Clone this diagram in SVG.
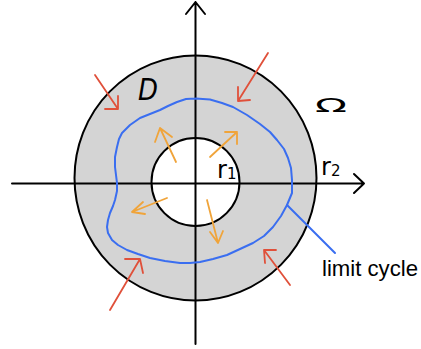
<svg xmlns="http://www.w3.org/2000/svg" width="421" height="349" viewBox="0 0 421 349">
<defs>
<style>
.ax{stroke:#000;stroke-width:2;fill:none;stroke-linecap:round;stroke-linejoin:round}
.red{stroke:#e0503a;stroke-width:1.8;fill:none;stroke-linecap:round;stroke-linejoin:round}
.org{stroke:#f0a43a;stroke-width:1.8;fill:none;stroke-linecap:round;stroke-linejoin:round}
.blue{stroke:#3a6ef0;stroke-width:2;fill:none;stroke-linecap:round;stroke-linejoin:round}
.hand{font-family:"DejaVu Sans","Liberation Sans",sans-serif;fill:#000}
.lbl{font-family:"Liberation Sans",Arial,sans-serif;fill:#000}
</style>
</defs>
<rect width="421" height="349" fill="#fff"/>
<g id="region-D">
<ellipse cx="195.5" cy="178" rx="121" ry="122.5" fill="#d4d4d4" stroke="#000" stroke-width="2"/>
<circle cx="195.5" cy="182" r="44" fill="#fff" stroke="#000" stroke-width="2"/>
</g>
<g id="axes">
<path class="ax" d="M12 183.5 H364 M354 174 L364 183.5 L354 193"/>
<path class="ax" d="M195.5 344 V2 M186 14 L195.5 2 L205 14"/>
</g>
<g id="limit-cycle">
<polyline class="blue" points="195.7,98.5 210,99.5 222,103 233,107 247,115 260,124 270,132 277,140 284,149 288,158 291,168 292,180 292,193 287,205 281,216 273,227 264,236 253,243 240,249 227,255 213,259 200,262 190,263 180,263 165,261 150,258 138,254 127,250 118,245 112,240 108,233 107,227 108,220 110,213 113,206 115,200 117,191 117,183 116,175 115,167 115,157 117,147 119,139 122,133 130,125 140,118 150,114 160,110 168,106 177,102 186,99 195.7,98.5"/>
</g>
<g id="connectors">
<path class="blue" d="M287 205 L335 253"/>
<path class="red" d="M95 75 L118 109 M118 96 L118 109 L105 109"/>
<path class="red" d="M268 53 L238 101 M238 87 L238 101 L250 100"/>
<path class="red" d="M110 310 L140 259 M125 259 L140 259 L143 273"/>
<path class="red" d="M290 285 L264 250 M276 250 L264 250 L265 263"/>
<path class="org" d="M176 162 L160 128 M155 142 L160 128 L172 137"/>
<path class="org" d="M210 157 L237 132 M225 132 L237 132 L237 144"/>
<path class="org" d="M167 198 L132 212 M143 202 L132 212 L145 214"/>
<path class="org" d="M207 200 L218 243 M210 232 L218 243 L223 231"/>
</g>
<g id="labels">
<text class="hand" x="148" y="100" font-size="30" font-style="italic" text-anchor="middle" textLength="20" lengthAdjust="spacingAndGlyphs">D</text>
<text class="hand" x="315" y="112" font-size="20" textLength="32" lengthAdjust="spacingAndGlyphs">Ω</text>
<text class="hand" x="217" y="178" font-size="24">r<tspan font-size="15" dy="1">1</tspan></text>
<text class="hand" x="321" y="175" font-size="24">r<tspan font-size="15" dy="1">2</tspan></text>
<text class="lbl" x="322" y="276" font-size="22" textLength="96" lengthAdjust="spacingAndGlyphs">limit cycle</text>
</g>
</svg>
